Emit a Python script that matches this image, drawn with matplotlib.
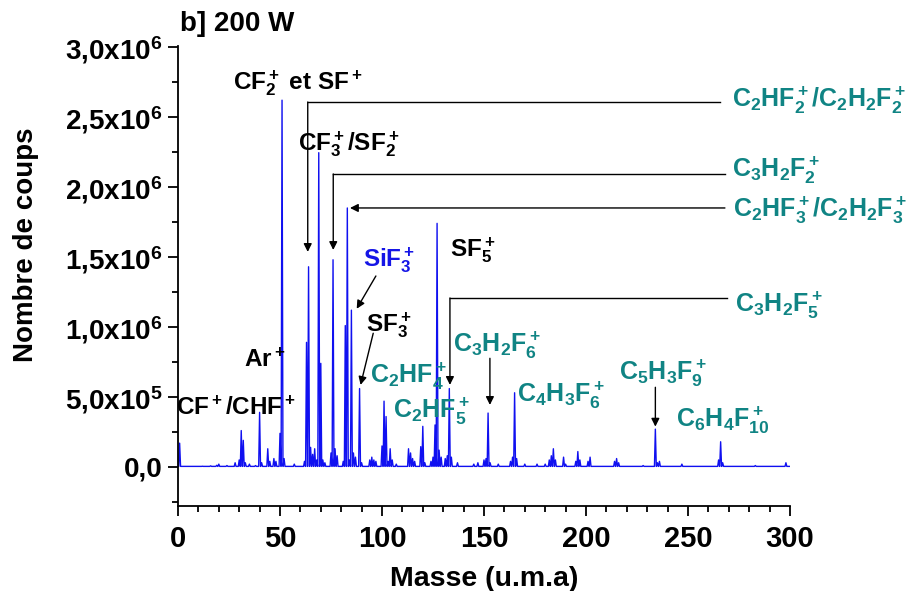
import matplotlib
matplotlib.use('Agg')
import matplotlib.pyplot as plt
from matplotlib.ticker import FixedLocator, FixedFormatter, MultipleLocator
import numpy as np

plt.rcParams['font.family'] = ['Liberation Sans', 'DejaVu Sans']
plt.rcParams['font.weight'] = 'bold'
plt.rcParams['mathtext.fontset'] = 'custom'
plt.rcParams['mathtext.rm'] = 'Liberation Sans:bold'
plt.rcParams['mathtext.it'] = 'Liberation Sans:bold'
plt.rcParams['mathtext.bf'] = 'Liberation Sans:bold'
plt.rcParams['mathtext.default'] = 'bf'

# pics du spectre de masse (masse en u.m.a, nombre de coups en 1e6)
peak_mass = [0.8, 12, 16, 19, 20, 24, 28, 30, 31, 32, 33, 35, 38, 40, 41, 44, 45, 47, 48,
             50, 51, 52, 57, 62, 63, 64, 65, 66, 67, 68, 69, 70, 71, 72, 75, 76, 77, 78,
             81, 82, 83, 84, 85, 86, 87, 89, 90, 94, 95, 96, 97, 100, 101, 102, 103, 104,
             105, 107, 113, 114, 115, 116, 119, 120, 121, 124, 125, 126, 127, 128, 129,
             131, 132, 133, 134, 137, 145, 147, 150, 151, 152, 153, 157, 163, 164, 165,
             166, 170, 176, 180, 182, 183, 184, 185, 189, 190, 195, 196, 197, 201, 202,
             214, 215, 216, 228, 234, 235, 236, 247, 265, 266, 267, 283, 298]
peak_counts = [0.17, 0.005, 0.008, 0.012, 0.02, 0.01, 0.03, 0.05, 0.26, 0.19, 0.03, 0.02,
               0.01, 0.39, 0.03, 0.13, 0.04, 0.06, 0.04, 0.24, 2.62, 0.06, 0.02, 0.04, 0.89,
               1.43, 0.14, 0.09, 0.13, 0.05, 2.245, 0.74, 0.05, 0.03, 0.10, 1.48, 0.13, 0.08,
               0.04, 1.01, 1.85, 0.05, 1.12, 0.10, 0.07, 0.56, 0.03, 0.05, 0.07, 0.05, 0.04,
               0.15, 0.47, 0.36, 0.04, 0.13, 0.05, 0.02, 0.13, 0.10, 0.06, 0.04, 0.145, 0.29,
               0.03, 0.04, 0.07, 0.30, 1.74, 0.12, 0.07, 0.06, 0.08, 0.56, 0.07, 0.03, 0.02,
               0.03, 0.05, 0.06, 0.385, 0.03, 0.02, 0.04, 0.07, 0.53, 0.06, 0.02, 0.02, 0.02,
               0.05, 0.08, 0.13, 0.05, 0.07, 0.02, 0.04, 0.11, 0.05, 0.04, 0.07, 0.04, 0.06,
               0.03, 0.01, 0.27, 0.03, 0.04, 0.02, 0.05, 0.18, 0.03, 0.01, 0.03]
baseline = 0.004

yticks = [0, 0.5e6, 1.0e6, 1.5e6, 2.0e6, 2.5e6, 3.0e6]
ytick_labels = ['0,0', '5,0x10$^{5}$', '1,0x10$^{6}$', '1,5x10$^{6}$',
                '2,0x10$^{6}$', '2,5x10$^{6}$', '3,0x10$^{6}$']

# construire la trace : chaque pic est un triangle etroit sur la ligne de base
xs, ys = [0], [baseline * 1e6]
for m, h in zip(peak_mass, peak_counts):
    xs += [m - 0.45, m, m + 0.45]
    ys += [baseline * 1e6, h * 1e6, baseline * 1e6]
xs.append(300)
ys.append(baseline * 1e6)

fig = plt.figure(figsize=(9.12, 5.91), dpi=100)
ax = fig.add_axes([178 / 912, 85 / 591, 612 / 912, 460 / 591])
ax.plot(xs, ys, color='#1010f0', lw=1.0)

ax.set_xlim(0, 300)
ax.set_ylim(-0.279e6, 3.007e6)
for s in ['top', 'right']:
    ax.spines[s].set_visible(False)
for s in ['left', 'bottom']:
    ax.spines[s].set_linewidth(1.3)
ax.xaxis.set_major_locator(MultipleLocator(50))
ax.xaxis.set_minor_locator(MultipleLocator(10))
ax.yaxis.set_major_locator(FixedLocator(yticks))
ax.yaxis.set_major_formatter(FixedFormatter(ytick_labels))
ax.yaxis.set_minor_locator(MultipleLocator(0.25e6))
ax.tick_params(which='major', length=7, width=1.3, labelsize=20, pad=4)
ax.tick_params(axis='x', which='major', pad=7, labelsize=21)
ax.tick_params(which='minor', length=4, width=1.3)
ax.set_xlabel('Masse (u.m.a)', fontsize=20.5, fontweight='bold', labelpad=9)
fig.text(26 / 912, 1 - 245 / 591, 'Nombre de coups', rotation=90, fontsize=20,
         fontweight='bold', ha='center', va='center')
fig.text(180 / 912, 1 - 24 / 591, 'b] 200 W', fontsize=20, fontweight='bold',
         ha='left', va='center')

teal = '#108484'
black_labels = [
    ('CF$_2^+$ et SF$^+$', 26.9, 2.698e6, 'k'),
    ('CF$_3^+$/SF$_2^+$', 59.0, 2.264e6, 'k'),
    ('SiF$_3^+$', 90.5, 1.431e6, '#1515e6'),
    ('SF$_5^+$', 133.3, 1.502e6, 'k'),
    ('SF$_3^+$', 92.2, 0.966e6, 'k'),
    ('Ar$^+$', 32.4, 0.716e6, 'k'),
    ('CF$^+$/CHF$^+$', -1.0, 0.371e6, 'k'),
]
for txt, x, y, c in black_labels:
    ax.text(x, y, txt, color=c, fontsize=17.5, ha='left', va='baseline', clip_on=False)

teal_labels = [
    ('C$_2$HF$_4^+$', 94.1, 0.598e6),
    ('C$_2$HF$_5^+$', 105.2, 0.348e6),
    ('C$_3$H$_2$F$_6^+$', 134.6, 0.824e6),
    ('C$_4$H$_3$F$_6^+$', 166.3, 0.467e6),
    ('C$_5$H$_3$F$_9^+$', 216.3, 0.621e6),
    ('C$_6$H$_4$F$_{10}^+$', 244.1, 0.288e6),
    ('C$_2$HF$_2^+$/C$_2$H$_2$F$_2^+$', 271.4, 2.574e6),
    ('C$_3$H$_2$F$_2^+$', 271.4, 2.074e6),
    ('C$_2$HF$_3^+$/C$_2$H$_2$F$_3^+$', 272.2, 1.788e6),
    ('C$_3$H$_2$F$_5^+$', 273.0, 1.109e6),
]
for txt, x, y in teal_labels:
    ax.text(x, y, txt, color=teal, fontsize=18, ha='left', va='baseline', clip_on=False)

arrow = dict(arrowstyle='-|>', color='k', lw=1, mutation_scale=12, shrinkA=0, shrinkB=0)

def elbow(x0, y0, x1, ytip):
    ax.plot([x0, x1], [y0, y0], color='k', lw=1, clip_on=False)
    ax.annotate('', xy=(x0, ytip), xytext=(x0, y0), arrowprops=arrow)

elbow(63.6, 2.607e6, 265.7, 1.536e6)
elbow(76.1, 2.093e6, 268.1, 1.55e6)
elbow(133.3, 1.207e6, 269.1, 0.586e6)
ax.annotate('', xy=(84.3, 1.85e6), xytext=(268.1, 1.85e6), arrowprops=arrow)
ax.annotate('', xy=(87.6, 1.13e6), xytext=(97.0, 1.364e6), arrowprops=arrow)
ax.annotate('', xy=(89.5, 0.586e6), xytext=(95.7, 0.955e6), arrowprops=arrow)
ax.annotate('', xy=(152.9, 0.443e6), xytext=(152.9, 0.776e6), arrowprops=arrow)
ax.annotate('', xy=(234.0, 0.288e6), xytext=(234.0, 0.569e6), arrowprops=arrow)

fig.savefig('out.png', dpi=100)
